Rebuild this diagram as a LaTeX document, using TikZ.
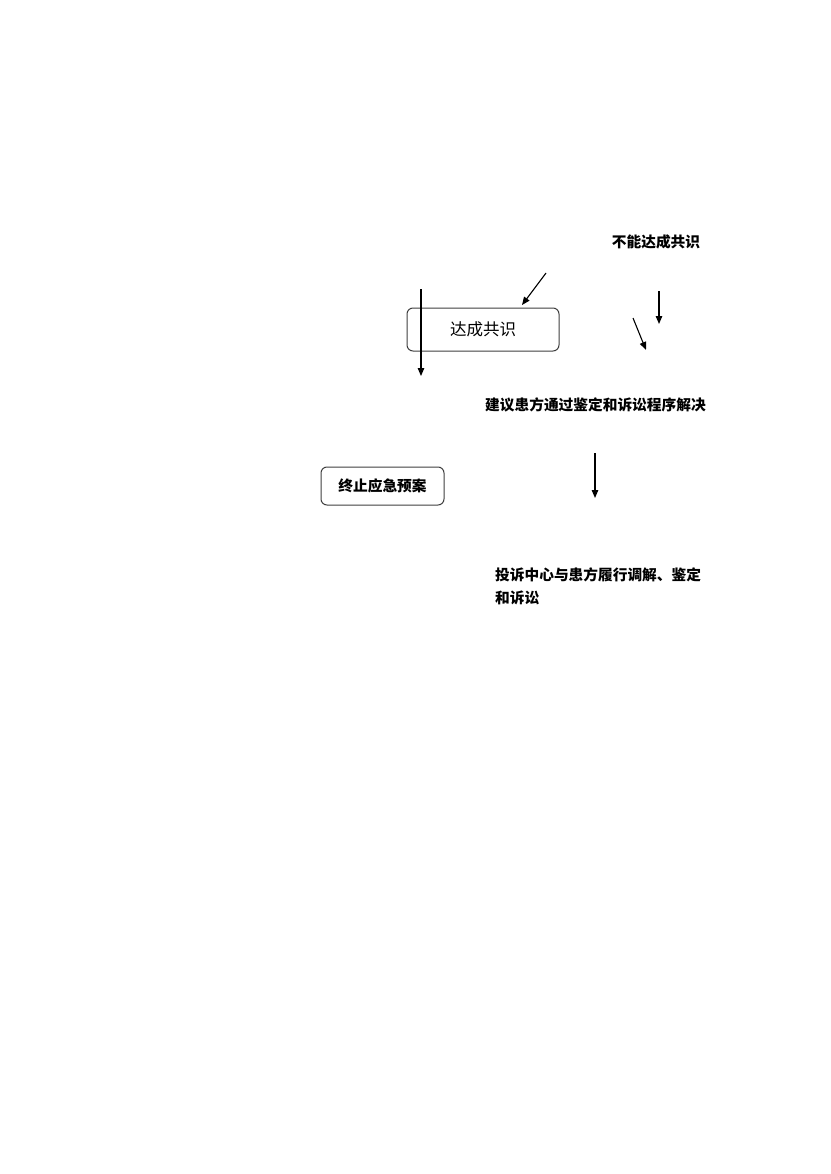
\documentclass[tikz,border=0pt]{standalone}
\usepackage{fontspec}
\newfontfamily\cjk{Noto Sans CJK SC}
\usetikzlibrary{arrows.meta}
\begin{document}
\begin{tikzpicture}[x=1pt,y=-1pt,
  boxa/.style={draw=black!75,line width=1pt,rounded corners=6pt,inner sep=0pt,minimum width=152pt,minimum height=43pt,font=\cjk\fontsize{16.5}{19}\selectfont},
  boxb/.style={draw=black!75,line width=1pt,rounded corners=6pt,inner sep=0pt,minimum width=123pt,minimum height=38pt,font=\cjk\bfseries\fontsize{14.7}{18}\selectfont},
  lbl/.style={inner sep=0pt,font=\cjk\bfseries\fontsize{14.7}{23}\selectfont},
  arr/.style={line width=1.1pt,-{Triangle[length=8pt,width=6.5pt]}}]
\useasboundingbox[fill=white] (0,0) rectangle (830,1174);
\node[lbl] (nc) at (656,242) {不能达成共识};
\node[boxa] (dc) at (483,329.5) {达成共识};
\node[lbl,anchor=west] (jy) at (485,405) {建议患方通过鉴定和诉讼程序解决};
\node[boxb] (zz) at (382.5,486) {终止应急预案};
\node[lbl,anchor=west,align=left] (ts) at (495,586.5) {投诉中心与患方履行调解、鉴定\\和诉讼};
\coordinate (a1s) at (546,273);
\coordinate (a1e) at (522,305);
\coordinate (a2s) at (421,289);
\coordinate (a2e) at (421,376);
\coordinate (a3s) at (659,291);
\coordinate (a3e) at (659,324);
\coordinate (a4s) at (633,318);
\coordinate (a4e) at (646,350);
\coordinate (a5s) at (595,453);
\coordinate (a5e) at (595,498);
\draw[arr] (a1s) -- (a1e);
\draw[arr] (a2s) -- (a2e);
\draw[arr] (a3s) -- (a3e);
\draw[arr] (a4s) -- (a4e);
\draw[arr] (a5s) -- (a5e);
\end{tikzpicture}
\end{document}
